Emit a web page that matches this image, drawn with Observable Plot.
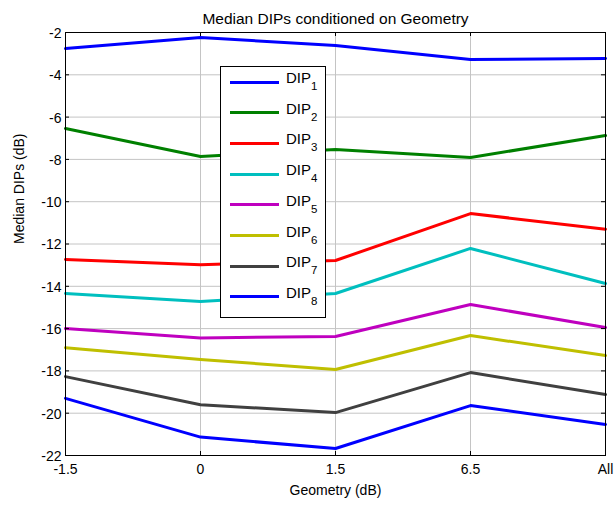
<!DOCTYPE html>
<html>
<head>
<meta charset="utf-8">
<script src="https://cdn.jsdelivr.net/npm/d3@7"></script>
<script src="https://cdn.jsdelivr.net/npm/@observablehq/plot@0.6"></script>
<style>
  body { margin: 0; background: #fff; }
  #chart { position: relative; width: 614px; height: 508px; font-family: "Liberation Sans", Arial, sans-serif; }
  #legend { position: absolute; left: 220px; top: 66px; width: 106px; height: 252px; background: #fff; border: 1px solid #000; box-sizing: border-box; }
  .entry { position: absolute; left: 0; width: 100%; height: 0; }
  .swatch { position: absolute; left: 9px; width: 49px; height: 3px; top: -1.5px; }
  .name { position: absolute; left: 65px; top: -13px; font-size: 15px; line-height: 17px; white-space: nowrap; color: #000; }
  .name sub { font-size: 11.5px; vertical-align: baseline; position: relative; top: 7px; }
</style>
</head>
<body>
<div id="chart"></div>
<script>
// Geometry classes on the x axis
const categories = ["-1.5", "0", "1.5", "6.5", "All"];

// Median DIP values (dB) per geometry class
const dip1 = [-2.76, -2.24, -2.61, -3.28, -3.23];
const dip2 = [-6.54, -7.86, -7.53, -7.91, -6.87];
const dip3 = [-12.73, -12.98, -12.78, -10.56, -11.3];
const dip4 = [-14.34, -14.72, -14.34, -12.21, -13.87];
const dip5 = [-16.0, -16.44, -16.37, -14.86, -15.95];
const dip6 = [-16.9, -17.46, -17.93, -16.33, -17.27];
const dip7 = [-18.27, -19.6, -19.97, -18.08, -19.12];
const dip8 = [-19.3, -21.13, -21.67, -19.64, -20.53];

const seriesNames = ["DIP1", "DIP2", "DIP3", "DIP4", "DIP5", "DIP6", "DIP7", "DIP8"];
const seriesSubscripts = ["1", "2", "3", "4", "5", "6", "7", "8"];
const seriesColors = ["#0000ff", "#008000", "#ff0000", "#00bfbf", "#bf00bf", "#bfbf00", "#404040", "#0000ff"];

const yTicks = [-22, -20, -18, -16, -14, -12, -10, -8, -6, -4, -2];

const allSeries = [dip1, dip2, dip3, dip4, dip5, dip6, dip7, dip8];
const rows = [];
allSeries.forEach((values, s) => {
  values.forEach((v, i) => rows.push({series: seriesNames[s], geometry: categories[i], value: v}));
});

const W = 614, H = 508;
const mL = 65, mR = 9, mT = 32, mB = 53;
const frameW = W - mL - mR, frameH = H - mT - mB;
const tickLen = 4;
const gridColor = "#c4c4c4";

const chart = Plot.plot({
  width: W,
  height: H,
  marginLeft: mL,
  marginRight: mR,
  marginTop: mT,
  marginBottom: mB,
  style: {fontFamily: "'Liberation Sans', Arial, sans-serif", background: "#fff", color: "#000"},
  x: {type: "point", domain: categories, padding: 0, label: null},
  y: {domain: [-22, -2], label: null},
  color: {domain: seriesNames, range: seriesColors},
  marks: [
    Plot.ruleX(categories, {stroke: gridColor, strokeWidth: 1}),
    Plot.ruleY(yTicks, {stroke: gridColor, strokeWidth: 1}),
    Plot.line(rows, {x: "geometry", y: "value", z: "series", stroke: "series", strokeWidth: 3}),
    Plot.frame({stroke: "#000", strokeWidth: 1}),
    // inward tick marks on all four sides
    Plot.ruleX(categories, {stroke: "#000", insetTop: frameH - tickLen}),
    Plot.ruleX(categories, {stroke: "#000", insetBottom: frameH - tickLen}),
    Plot.ruleY(yTicks, {stroke: "#000", insetRight: frameW - tickLen}),
    Plot.ruleY(yTicks, {stroke: "#000", insetLeft: frameW - tickLen}),
    Plot.axisX({tickSize: 0, tickPadding: 9, fontSize: 14, label: null}),
    Plot.axisY(yTicks, {tickSize: 0, tickPadding: 4, fontSize: 14, dy: 1, label: null, tickFormat: d => String(d)}),
    Plot.text(["Median DIPs conditioned on Geometry"], {text: d => d, frameAnchor: "top", dy: -20, fontSize: 15.5}),
    Plot.text(["Geometry (dB)"], {text: d => d, frameAnchor: "bottom", dy: 39, fontSize: 14}),
    Plot.text(["Median DIPs (dB)"], {text: d => d, frameAnchor: "left", dx: -46, rotate: -90, fontSize: 14})
  ]
});

const container = document.getElementById("chart");
container.appendChild(chart);

// Legend box drawn over the plot area
const legend = document.createElement("div");
legend.id = "legend";
seriesNames.forEach((name, i) => {
  const entry = document.createElement("div");
  entry.className = "entry";
  entry.style.top = (15 + i * 30.7) + "px";
  const sw = document.createElement("div");
  sw.className = "swatch";
  sw.style.background = seriesColors[i];
  const label = document.createElement("div");
  label.className = "name";
  label.innerHTML = "DIP<sub>" + seriesSubscripts[i] + "</sub>";
  entry.appendChild(sw);
  entry.appendChild(label);
  legend.appendChild(entry);
});
container.appendChild(legend);
</script>
</body>
</html>
